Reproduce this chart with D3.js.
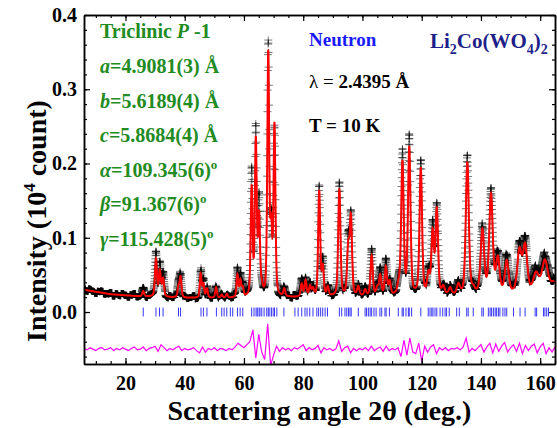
<!DOCTYPE html>
<html>
<head>
<meta charset="utf-8">
<script src="https://cdn.jsdelivr.net/npm/d3@7"></script>
<style>
  body { margin: 0; background: #fff; }
  svg { display: block; }
  text { font-family: "Liberation Serif", "Times New Roman", serif; font-weight: bold; }
</style>
</head>
<body>
<div id="chart"></div>
<script>
// Reflections: position (2theta), calc height, obs height (above background), FWHM
const peakPos = [26.0, 30.3, 31.6, 32.7, 37.9, 38.6, 45.4, 46.3, 47.5, 50.6, 52.5, 54.2, 57.8, 58.8, 59.6,
  62.6, 64.0, 65.1, 66.0, 68.2, 69.2, 70.3, 73.6, 79.5, 80.8, 82.3, 83.3, 85.4, 86.6, 88.3,
  92.2, 95.2, 96.1, 98.6, 100.9, 103.1, 105.0, 106.0, 107.9, 109.2, 112.2, 113.5, 115.8, 119.7,
  122.3, 123.7, 125.1, 127.3, 129.6, 132.4, 135.4, 137.4, 140.5, 143.4, 145.7, 148.7, 153.0,
  154.9, 158.6, 161.6, 164.5];
const peakCalc = [0.007, 0.050, 0.034, 0.024, 0.014, 0.027, 0.032, 0.018, 0.012, 0.014, 0.004, 0.005, 0.030, 0.022, 0.012,
  0.145, 0.208, 0.105, 0.010, 0.325, 0.085, 0.228, 0.010, 0.017, 0.022, 0.014, 0.010, 0.142, 0.038, 0.012,
  0.144, 0.062, 0.104, 0.012, 0.008, 0.054, 0.010, 0.027, 0.038, 0.018, 0.012, 0.178, 0.197, 0.170,
  0.026, 0.082, 0.114, 0.010, 0.009, 0.013, 0.178, 0.006, 0.085, 0.132, 0.046, 0.043, 0.056,
  0.062, 0.025, 0.043, 0.012];
const peakObs = [0.009, 0.057, 0.042, 0.030, 0.016, 0.032, 0.038, 0.021, 0.014, 0.017, 0.005, 0.006, 0.036, 0.027, 0.014,
  0.166, 0.226, 0.125, 0.012, 0.334, 0.095, 0.226, 0.013, 0.021, 0.027, 0.016, 0.012, 0.145, 0.046, 0.014,
  0.150, 0.070, 0.110, 0.014, 0.010, 0.060, 0.012, 0.033, 0.045, 0.022, 0.014, 0.190, 0.210, 0.183,
  0.033, 0.090, 0.122, 0.012, 0.011, 0.015, 0.184, 0.008, 0.090, 0.136, 0.055, 0.053, 0.061,
  0.068, 0.031, 0.050, 0.014];
const peakWidth = [0.8, 0.8, 0.8, 0.8, 0.75, 0.75, 0.7, 0.7, 0.7, 0.7, 0.7, 0.7, 0.7, 0.7, 0.7,
  0.75, 0.75, 0.75, 0.75, 0.75, 0.75, 0.75, 0.8, 0.8, 0.8, 0.8, 0.8, 0.8, 0.8, 0.8,
  0.9, 0.9, 0.9, 0.9, 0.9, 0.9, 0.9, 0.9, 0.9, 0.9, 1.0, 1.0, 1.0, 1.0,
  1.0, 1.0, 1.0, 1.1, 1.1, 1.2, 1.2, 1.2, 1.4, 1.4, 1.4, 1.5, 1.7,
  1.7, 2.2, 2.4, 2.2];

// background knots
const bgAngle = [6, 15, 25, 40, 60, 80, 100, 120, 140, 160, 165];
const bgLevel = [0.030, 0.024, 0.021, 0.019, 0.019, 0.020, 0.021, 0.022, 0.023, 0.025, 0.026];

// Bragg reflection markers
const braggPos = [26.0, 30.3, 31.5, 32.7, 37.9, 38.6, 45.5, 46.3, 47.5, 50.7, 52.5, 53.3, 54.2, 55.4, 56.2,
  57.8, 58.7, 59.6, 62.6, 63.4, 64.1, 64.5, 65.1, 65.4, 66.0, 66.8, 67.7, 68.2, 68.5, 69.2, 69.4,
  70.1, 70.3, 71.1, 73.5, 77.2, 78.3, 79.5, 80.6, 81.3, 82.2, 83.3, 84.6, 85.2, 85.9, 86.6, 87.4,
  88.2, 92.2, 93.0, 94.1, 94.7, 95.3, 95.8, 96.2, 98.6, 100.9, 101.4, 102.0, 102.6, 103.1, 103.9,
  104.6, 105.9, 106.5, 107.6, 108.0, 109.1, 112.1, 113.4, 113.8, 114.7, 115.5, 115.8, 116.6,
  119.7, 122.2, 122.8, 123.4, 123.8, 124.5, 125.1, 126.2, 127.1, 127.9, 128.4, 129.3, 131.8,
  132.7, 135.2, 135.7, 137.4, 140.3, 140.8, 142.5, 143.1, 143.6, 144.2, 144.8, 145.3, 145.9,
  146.4, 147.4, 148.1, 148.7, 151.0, 153.2, 154.9, 158.3, 158.8, 161.1, 161.6, 162.2, 162.8];

// obs - calc, one value per degree from 6 to 165
const diffStart = 6;
const diffVals = [0.001, -0.001, 0.002, 0.000, -0.002, 0.001, 0.002, -0.001, 0.000, 0.002,
  -0.002, 0.001, -0.001, 0.002, 0.000, -0.002, 0.001, 0.003, -0.001, 0.000,
  0.003, -0.002, 0.001, 0.002, 0.004, -0.003, 0.006, 0.002, -0.002, 0.001,
  -0.001, 0.002, 0.004, -0.002, 0.001, -0.001, 0.000, 0.002, -0.002, -0.005,
  0.003, -0.004, 0.001, -0.001, 0.002, -0.002, 0.001, 0.000, -0.002, 0.001,
  -0.001, 0.003, 0.008, 0.005, 0.002, 0.006, 0.010, 0.026, -0.012, 0.020,
  -0.004, -0.014, 0.034, -0.022, -0.008, 0.004, -0.003, 0.002, -0.001, 0.001,
  -0.002, 0.002, 0.000, 0.003, 0.006, -0.002, 0.002, -0.001, 0.001, 0.005,
  -0.005, 0.002, -0.001, 0.001, -0.002, 0.000, 0.011, -0.003, 0.002, 0.004,
  -0.005, 0.001, -0.002, 0.001, -0.001, 0.002, -0.002, 0.004, -0.002, 0.001,
  0.003, -0.003, 0.004, -0.002, 0.001, -0.001, 0.002, -0.010, 0.012, -0.008,
  0.015, -0.004, -0.006, 0.008, -0.016, 0.004, -0.004, 0.003, 0.006, -0.006,
  0.002, -0.001, 0.002, -0.002, 0.001, 0.000, 0.002, -0.001, 0.003, 0.015,
  -0.004, 0.001, -0.002, 0.002, 0.006, -0.004, 0.003, 0.008, -0.005, 0.007,
  -0.003, 0.004, 0.009, -0.004, 0.002, 0.006, -0.003, 0.008, -0.006, 0.005,
  -0.002, 0.004, 0.007, -0.005, 0.003, 0.008, -0.006, 0.002, -0.004, 0.003];
const diffOffset = -0.05;

const xTicks = [20, 40, 60, 80, 100, 120, 140, 160];
const yTicks = [0.0, 0.1, 0.2, 0.3, 0.4];

function pv(t, p, w) {
    let u = (t - p) / w;
    let u2 = 4 * u * u;
    return 0.4 / (1 + u2) + 0.6 * Math.exp(-Math.LN2 * u2);
}

function draw() {
    let width = 557, height = 428;
    let left = 84, right = 555, top = 15, bottom = 364;

    let svg = d3.select("#chart").append("svg")
        .attr("width", width).attr("height", height);

    let x = d3.scaleLinear().domain([6, 165]).range([left, right]);
    let y = d3.scaleLinear().domain([-0.07, 0.4]).range([bottom, top]);
    let bg = d3.scaleLinear().domain(bgAngle).range(bgLevel).clamp(true);

    svg.append("defs").append("clipPath").attr("id", "clip")
        .append("rect").attr("x", left).attr("y", top)
        .attr("width", right - left).attr("height", bottom - top);

    // profile on a 0.05 degree grid
    let grid = d3.range(6, 165.001, 0.05);
    let prof = grid.map(function(t) {
        let c = bg(t), o = bg(t);
        for (let i = 0; i < peakPos.length; i++) {
            if (Math.abs(t - peakPos[i]) > 12) continue;
            let s = pv(t, peakPos[i], peakWidth[i]);
            c += peakCalc[i] * s;
            o += peakObs[i] * s;
        }
        let k = Math.min(diffVals.length - 1, Math.round(t - diffStart));
        o += Math.max(-0.003, Math.min(0.003, diffVals[k]));
        return { t: t, calc: c, obs: o };
    });

    let plot = svg.append("g").attr("clip-path", "url(#clip)");

    // observed (crosses)
    plot.append("g").selectAll("path")
        .data(prof).enter().append("path")
        .attr("d", function(d) {
            let px = x(d.t), py = y(d.obs);
            return "M" + (px - 4) + "," + py + "h8M" + px + "," + (py - 3.5) + "v7";
        })
        .attr("stroke", "#000").attr("stroke-width", 0.9).attr("stroke-opacity", 0.6);

    // calculated
    plot.append("path")
        .datum(prof)
        .attr("d", d3.line().x(function(d) { return x(d.t); }).y(function(d) { return y(d.calc); }))
        .attr("fill", "none").attr("stroke", "#ff0000").attr("stroke-width", 2);

    // Bragg positions
    plot.append("g").selectAll("line")
        .data(braggPos).enter().append("line")
        .attr("x1", function(d) { return x(d); }).attr("x2", function(d) { return x(d); })
        .attr("y1", y(0.006)).attr("y2", y(-0.006))
        .attr("stroke", "#3535ff").attr("stroke-width", 1);

    // difference
    plot.append("path")
        .datum(diffVals)
        .attr("d", d3.line().x(function(d, i) { return x(diffStart + i); }).y(function(d) { return y(diffOffset + d); }))
        .attr("fill", "none").attr("stroke", "#ff00ff").attr("stroke-width", 1.2);

    // axes, ticks inward on all four sides
    function styleAxis(g) {
        g.selectAll("path").attr("stroke-width", 1.5);
        g.selectAll("line").attr("stroke-width", 1.2);
        g.selectAll("text").style("font-size", "20px").attr("fill", "#000");
    }
    let minorX = d3.range(10, 166, 5);
    let minorY = d3.range(-0.06, 0.401, 0.02);

    svg.append("g").attr("transform", "translate(0," + bottom + ")")
        .call(d3.axisBottom(x).tickValues(minorX).tickSizeInner(-3).tickSizeOuter(0).tickFormat(""))
        .call(styleAxis);
    svg.append("g").attr("transform", "translate(0," + bottom + ")")
        .call(d3.axisBottom(x).tickValues(xTicks).tickSizeInner(-6).tickSizeOuter(0).tickPadding(12).tickFormat(d3.format("d")))
        .call(styleAxis);
    svg.append("g").attr("transform", "translate(0," + top + ")")
        .call(d3.axisTop(x).tickValues(minorX).tickSizeInner(-3).tickSizeOuter(0).tickFormat(""))
        .call(styleAxis);
    svg.append("g").attr("transform", "translate(0," + top + ")")
        .call(d3.axisTop(x).tickValues(xTicks).tickSizeInner(-6).tickSizeOuter(0).tickFormat(""))
        .call(styleAxis);

    svg.append("g").attr("transform", "translate(" + left + ",0)")
        .call(d3.axisLeft(y).tickValues(minorY).tickSizeInner(-3).tickSizeOuter(0).tickFormat(""))
        .call(styleAxis);
    svg.append("g").attr("transform", "translate(" + left + ",0)")
        .call(d3.axisLeft(y).tickValues(yTicks).tickSizeInner(-6).tickSizeOuter(0).tickPadding(7).tickFormat(d3.format(".1f")))
        .call(styleAxis);
    svg.append("g").attr("transform", "translate(" + right + ",0)")
        .call(d3.axisRight(y).tickValues(minorY).tickSizeInner(-3).tickSizeOuter(0).tickFormat(""))
        .call(styleAxis);
    svg.append("g").attr("transform", "translate(" + right + ",0)")
        .call(d3.axisRight(y).tickValues(yTicks).tickSizeInner(-6).tickSizeOuter(0).tickFormat(""))
        .call(styleAxis);

    // axis titles
    svg.append("text")
        .attr("x", (left + right) / 2).attr("y", 420)
        .attr("text-anchor", "middle").style("font-size", "28px")
        .text("Scattering angle 2\u03b8 (deg.)");

    let yt = svg.append("text")
        .attr("transform", "translate(46,221) rotate(-90)")
        .attr("text-anchor", "middle").style("font-size", "28px");
    yt.append("tspan").text("Intensity (10");
    yt.append("tspan").text("4").style("font-size", "17px").attr("dy", -11);
    yt.append("tspan").text(" count)").attr("dy", 11);

    // annotations
    function label(x0, y0, size, fill, parts) {
        let t = svg.append("text").attr("x", x0).attr("y", y0)
            .attr("fill", fill).style("font-size", size + "px");
        parts.forEach(function(p) {
            let s = t.append("tspan").text(p.t);
            if (p.i) s.style("font-style", "italic");
            if (p.n) s.style("font-weight", "normal");
            if (p.fs) s.style("font-size", p.fs + "px");
            if (p.dy) s.attr("dy", p.dy);
        });
    }
    let green = "#228b22";
    label(100, 38, 20, green, [{ t: "Triclinic " }, { t: "P", i: true }, { t: " -1" }]);
    label(100, 73, 20, green, [{ t: "a", i: true }, { t: "=4.9081(3) \u00c5" }]);
    label(100, 108, 20, green, [{ t: "b", i: true }, { t: "=5.6189(4) \u00c5" }]);
    label(100, 142, 20, green, [{ t: "c", i: true }, { t: "=5.8684(4) \u00c5" }]);
    label(100, 177, 20, green, [{ t: "\u03b1", i: true }, { t: "=109.345(6)" }, { t: "o", fs: 13, dy: -8 }]);
    label(100, 211, 20, green, [{ t: "\u03b2", i: true }, { t: "=91.367(6)" }, { t: "o", fs: 13, dy: -8 }]);
    label(100, 246, 20, green, [{ t: "\u03b3", i: true }, { t: "=115.428(5)" }, { t: "o", fs: 13, dy: -8 }]);

    label(309, 46, 19, "#1a1aff", [{ t: "Neutron" }]);
    label(430, 48, 21, "#1f1f8a", [{ t: "Li" }, { t: "2", fs: 14, dy: 6 }, { t: "Co(WO", dy: -6 },
        { t: "4", fs: 14, dy: 6 }, { t: ")", dy: -6 }, { t: "2", fs: 14, dy: 6 }]);
    label(309, 88, 19, "#000", [{ t: "\u03bb = ", n: true }, { t: "2.4395 \u00c5" }]);
    label(309, 132, 19, "#000", [{ t: "T = 10 K" }]);
}

draw();
</script>
</body>
</html>
